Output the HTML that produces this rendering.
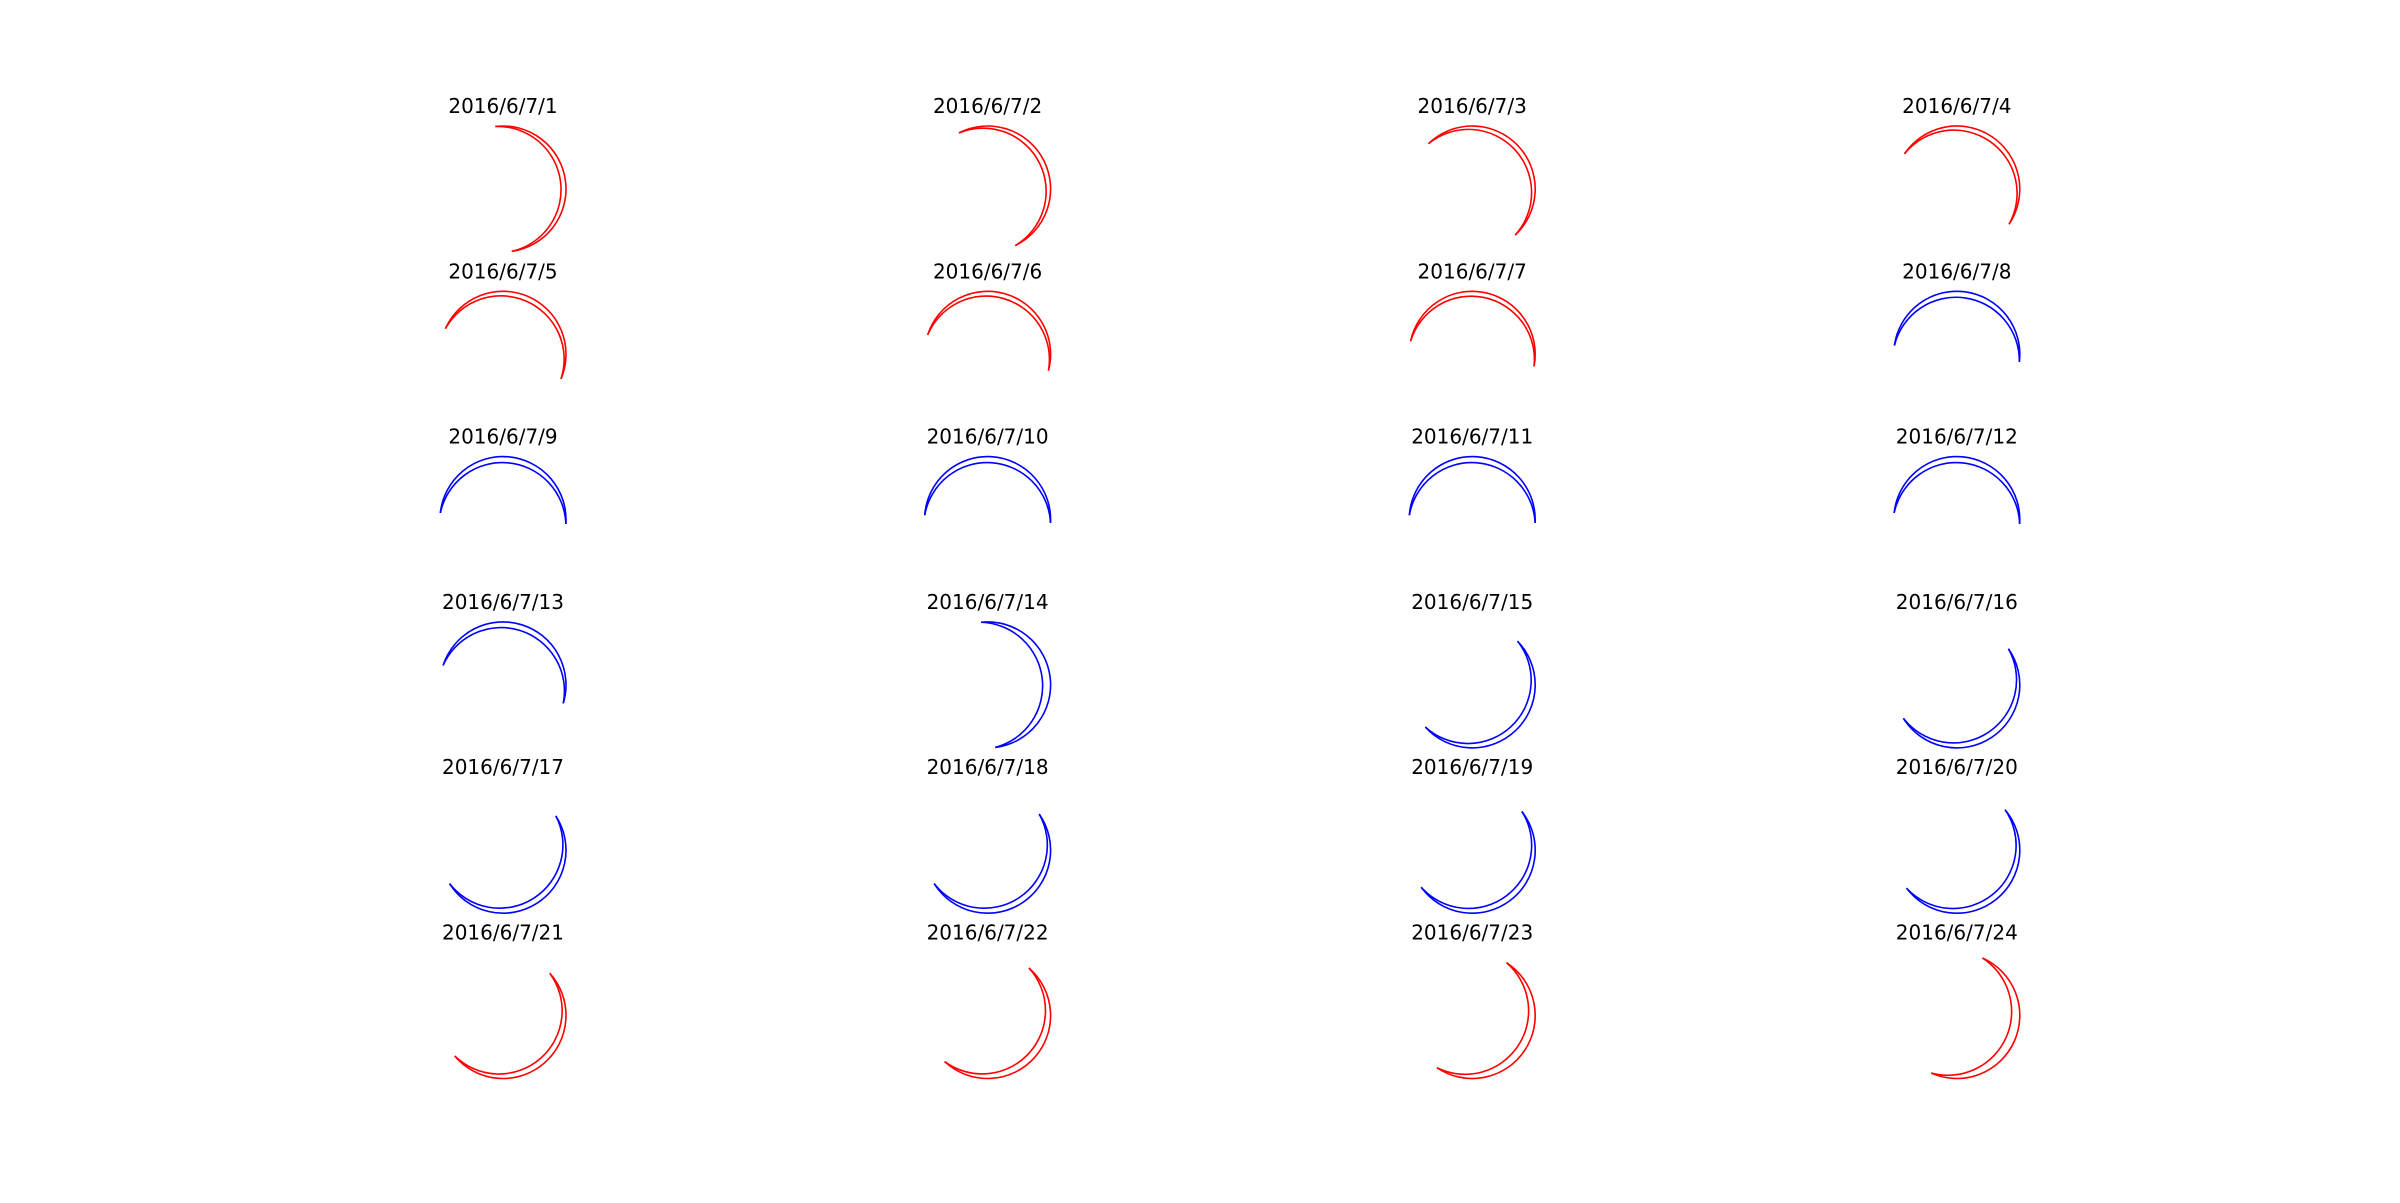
<!DOCTYPE html>
<html><head><meta charset="utf-8"><style>
html,body{margin:0;padding:0;background:#fff;}
svg{display:block;}
text{font-family:"DejaVu Sans","Liberation Sans",sans-serif;font-size:20px;fill:#000;}
</style></head><body>
<svg id="chart" width="2400" height="1203" viewBox="0 0 2400 1203" xmlns="http://www.w3.org/2000/svg"></svg>
<script>
const labels = ["2016/6/7/1","2016/6/7/2","2016/6/7/3","2016/6/7/4","2016/6/7/5","2016/6/7/6","2016/6/7/7","2016/6/7/8","2016/6/7/9","2016/6/7/10","2016/6/7/11","2016/6/7/12","2016/6/7/13","2016/6/7/14","2016/6/7/15","2016/6/7/16","2016/6/7/17","2016/6/7/18","2016/6/7/19","2016/6/7/20","2016/6/7/21","2016/6/7/22","2016/6/7/23","2016/6/7/24"];
const startAngles = [97,117,134,146,156,162,168,172,174,176,176,174,162,96,44,35,33,35,38,40,42,49,57,66];
const endAngles = [-82,-64,-47,-34,-23,-15,-11,-7,-4,-3,-3,-4,-17,-83,-138,-148,-148,-148,-144,-143,-140,-133,-124,-114];
const innerGaps = [5,5,5,5,5,5,5,6,6,6,6,6,6,8,6,6,6,6,6,6,6,7,8,9];
const colors = ["red","red","red","red","red","red","red","blue","blue","blue","blue","blue","blue","blue","blue","blue","blue","blue","blue","blue","red","red","red","red"];

const svg = document.getElementById('chart');
const NS = 'http://www.w3.org/2000/svg';
const colX = i => 503 + (i % 4) * 484.6;
const rowY = i => 189 + Math.floor(i / 4) * 165.3;
const R = 63;
const colorMap = {red:"#ff0000", blue:"#0000ff"};

labels.forEach((lab, i) => {
  const cx = colX(i), cy = rowY(i);
  const g = document.createElementNS(NS, 'g');
  
  
  svg.appendChild(g);

  const t = document.createElementNS(NS, 'text');
  
  
  t.setAttribute('x', cx);
  t.setAttribute('y', cy - 76);
  t.setAttribute('text-anchor', 'middle');
  t.textContent = lab;
  g.appendChild(t);

  const a1 = startAngles[i] * Math.PI / 180, a2 = endAngles[i] * Math.PI / 180;
  const x1 = cx + R * Math.cos(a1), y1 = cy - R * Math.sin(a1);
  const x2 = cx + R * Math.cos(a2), y2 = cy - R * Math.sin(a2);
  const delta = startAngles[i] - endAngles[i];
  const half = delta / 2 * Math.PI / 180;
  const L = 2 * R * Math.sin(half);
  const so = R - R * Math.cos(half);
  const si = Math.max(so - innerGaps[i], 1);
  const r2 = (L * L / 4 + si * si) / (2 * si);
  const largeO = delta > 180 ? 1 : 0;
  const largeI = si > L / 2 ? 1 : 0;
  const col = colorMap[colors[i]];

  const outer = document.createElementNS(NS, 'path');
  
  
  outer.setAttribute('d', `M${x1},${y1} A${R},${R} 0 ${largeO} 1 ${x2},${y2}`);
  outer.setAttribute('fill', 'none');
  outer.setAttribute('stroke', col);
  outer.setAttribute('stroke-width', '1.6');
  g.appendChild(outer);

  const inner = document.createElementNS(NS, 'path');
  
  
  inner.setAttribute('d', `M${x1},${y1} A${r2},${r2} 0 ${largeI} 1 ${x2},${y2}`);
  inner.setAttribute('fill', 'none');
  inner.setAttribute('stroke', col);
  inner.setAttribute('stroke-width', '1.6');
  g.appendChild(inner);
});
</script>
</body></html>
